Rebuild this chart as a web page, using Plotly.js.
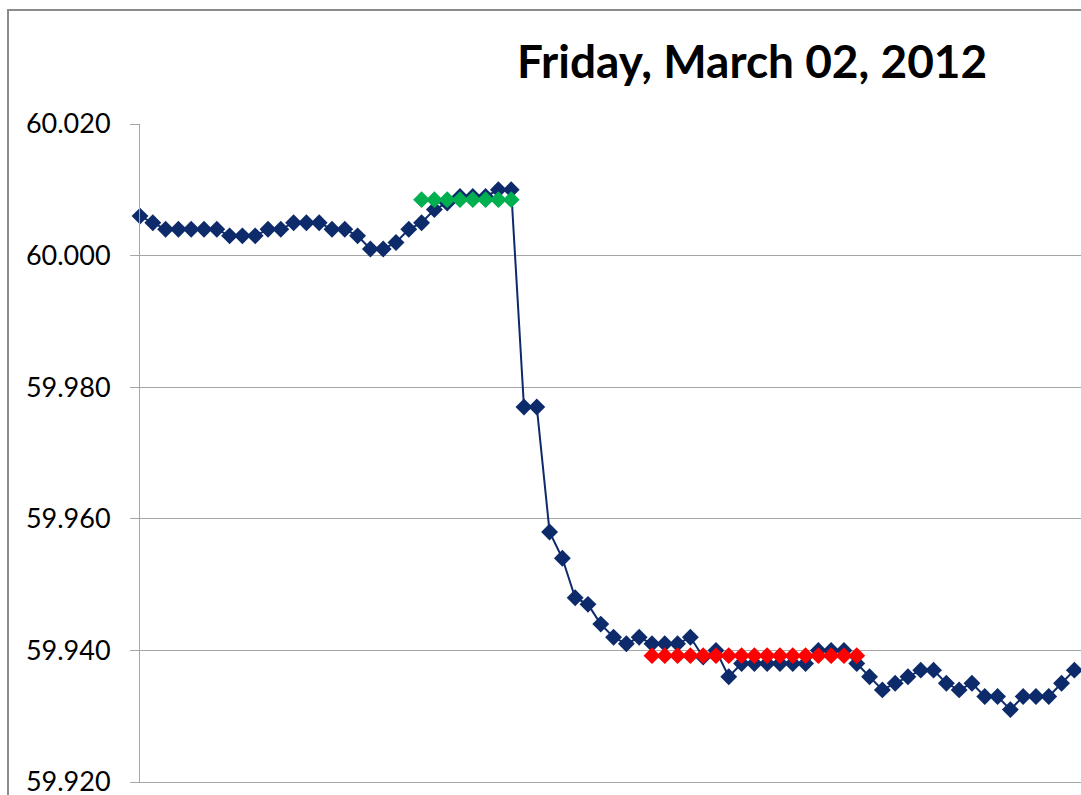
<!DOCTYPE html>
<html>
<head>
<meta charset="utf-8">
<script src="https://cdn.plot.ly/plotly-3.0.1.min.js"></script>
<style>
  html, body { margin: 0; padding: 0; overflow: hidden; background: #fff; }
  #wrap { position: relative; width: 1081px; height: 795px; }
  #chart { position: absolute; left: 0; top: 0; width: 1081px; height: 795px; }
  #frame { position: absolute; left: 7px; top: 9px; width: 1200px; height: 900px;
           border: 2px solid #8c8c8c; pointer-events: none; }
</style>
</head>
<body>
<div id="wrap">
  <div id="chart"></div>
  <div id="frame"></div>
</div>
<script>
const chartTitle = "Friday, March 02, 2012";

// Main frequency series (category positions 1..74)
const blueValues = [
  60.006, 60.005, 60.004, 60.004, 60.004, 60.004, 60.004, 60.003, 60.003, 60.003,
  60.004, 60.004, 60.005, 60.005, 60.005, 60.004, 60.004, 60.003, 60.001, 60.001,
  60.002, 60.004, 60.005, 60.007, 60.008, 60.009, 60.009, 60.009, 60.010, 60.010,
  59.977, 59.977, 59.958, 59.954, 59.948, 59.947, 59.944, 59.942, 59.941, 59.942,
  59.941, 59.941, 59.941, 59.942, 59.939, 59.940, 59.936, 59.938, 59.938, 59.938,
  59.938, 59.938, 59.938, 59.940, 59.940, 59.940, 59.938, 59.936, 59.934, 59.935,
  59.936, 59.937, 59.937, 59.935, 59.934, 59.935, 59.933, 59.933, 59.931, 59.933,
  59.933, 59.933, 59.935, 59.937
];
const blueIdx = blueValues.map((_, i) => i + 1);

// Pre-event average (green)
const greenIdx = [23, 24, 25, 26, 27, 28, 29, 30];
const greenValues = [60.0085, 60.0085, 60.0085, 60.0085, 60.0085, 60.0085, 60.0085, 60.0085];

// Post-event average (red)
const redIdx = [41, 42, 43, 44, 45, 46, 47, 48, 49, 50, 51, 52, 53, 54, 55, 56, 57];
const redValues = [59.9392, 59.9392, 59.9392, 59.9392, 59.9392, 59.9392, 59.9392, 59.9392, 59.9392,
                   59.9392, 59.9392, 59.9392, 59.9392, 59.9392, 59.9392, 59.9392, 59.9392];

const yTicks = [59.920, 59.940, 59.960, 59.980, 60.000, 60.020];

const font = "Lato, 'Open Sans', sans-serif";

const traces = [
  {
    x: blueIdx, y: blueValues, type: 'scatter', mode: 'lines+markers',
    line: { color: '#0d2a6b', width: 2 },
    marker: { symbol: 'diamond', size: 13, color: '#0d2a6b' },
    cliponaxis: false,
    showlegend: false
  },
  {
    x: greenIdx, y: greenValues, type: 'scatter', mode: 'markers',
    marker: { symbol: 'diamond', size: 13, color: '#00b050' },
    showlegend: false
  },
  {
    x: redIdx, y: redValues, type: 'scatter', mode: 'markers',
    marker: { symbol: 'diamond', size: 13, color: '#ff0000' },
    showlegend: false
  }
];

const layout = {
  width: 1081, height: 795,
  margin: { l: 140, r: 0, t: 124, b: 13, pad: 0 },
  paper_bgcolor: 'rgba(0,0,0,0)',
  plot_bgcolor: '#ffffff',
  title: {
    text: '<b>' + chartTitle + '</b>',
    font: { family: font, size: 46, color: '#000' },
    xref: 'container', x: 0.6957, xanchor: 'center',
    yref: 'container', y: 0.922, yanchor: 'middle'
  },
  xaxis: {
    range: [1, 74.52],
    showgrid: false, zeroline: false,
    showticklabels: false, ticks: '',
    showline: true, linecolor: '#a6a6a6', linewidth: 1
  },
  yaxis: {
    range: [59.920, 60.020],
    tickvals: yTicks,
    tickformat: '.3f',
    showgrid: true, gridcolor: '#a6a6a6', gridwidth: 1,
    zeroline: false,
    showline: true, linecolor: '#a6a6a6', linewidth: 1,
    ticks: 'outside', ticklen: 9, tickcolor: '#a6a6a6',
    ticklabelstandoff: 14,
    ticklabeloverflow: 'allow',
    tickfont: { family: font, size: 27, color: '#000' }
  }
};

Plotly.newPlot('chart', traces, layout, { displayModeBar: false, staticPlot: true });
</script>
</body>
</html>
